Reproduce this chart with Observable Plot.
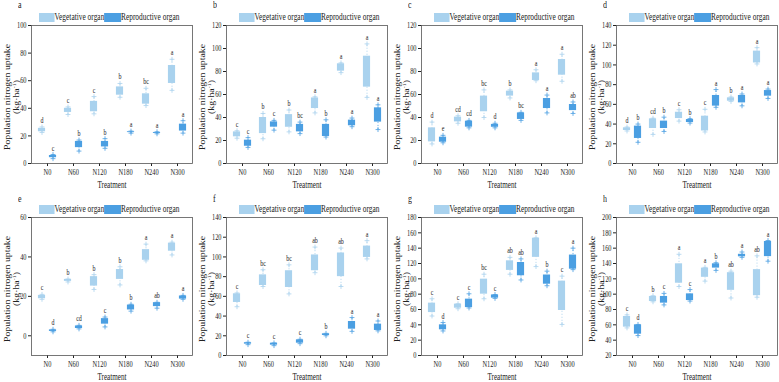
<!DOCTYPE html>
<html><head><meta charset="utf-8">
<script src="https://cdn.jsdelivr.net/npm/d3@7"></script>
<script src="https://cdn.jsdelivr.net/npm/@observablehq/plot@0.6"></script>
<style>
body{margin:0;background:#fff;}
#root{position:relative;width:779px;height:382px;overflow:hidden;font-family:"Liberation Serif",serif;color:#222;}
.panel{position:absolute;width:195px;height:192px;}
.panel svg{position:absolute;left:0;top:0;overflow:visible;}
.abs{position:absolute;white-space:nowrap;}
.letter{font-size:10px;line-height:10px;transform:scaleX(0.8);transform-origin:0 0;}
.legend{display:flex;align-items:center;font-size:10px;line-height:10px;transform:scaleX(0.74);transform-origin:0 0;}
.sw{display:inline-block;height:9px;}
.ylab{font-size:9.8px;line-height:12px;text-align:center;transform:translate(-50%,-50%) rotate(-90deg) scale(1,0.75);}
.ylab sup{font-size:6px;line-height:0;}
.xlab{font-size:9.5px;line-height:10px;transform:translateX(-50%) scaleX(0.75);}
</style></head><body><div id="root"></div>
<script>
// ---------- data ----------
const treatments = ["N0","N60","N120","N180","N240","N300"];
const organs = ["Vegetative organ","Reproductive organ"];
const panelLetters = ["a","b","c","d","e","f","g","h"];

// y axis domains and ticks per panel
const yDomains = [[0,100],[0,120],[0,120],[0,140],[-10,60],[0,140],[0,180],[20,200]];
const yTicks = [
  [0,20,40,60,80,100],
  [0,20,40,60,80,100,120],
  [0,20,40,60,80,100,120],
  [0,20,40,60,80,100,120,140],
  [0,20,40,60],
  [0,20,40,60,80,100,120,140],
  [0,20,40,60,80,100,120,140,160,180],
  [20,40,60,80,100,120,140,160,180,200]
];

// each entry: [whisker low, Q1, Q3, whisker high] for N0..N300
const vegA = [[22.5,23,25.5,26.5],[35.5,37,40,41],[36,37.5,45,48.5],[48,49.5,55.5,58],[42,43,50.5,54.5],[53,58,71,75.5]];
const repA = [[3.5,4.2,5.8,6.5],[9,11.5,16,17],[11,12,16,18],[22,22.4,23,23.5],[21.5,21.8,22.5,23],[22,23.5,28.5,31]];
const vegB = [[22,23.2,27.5,28.5],[21.5,26,40,43.5],[27.5,31.5,42.5,46.5],[44,47.8,57,58],[79,80.3,86.7,87.5],[57.5,66.4,93.3,104]];
const repB = [[14,15,20.3,22.5],[29,31.6,36.2,37.5],[26,27.5,34,36],[23,23.5,34,38],[32,32.8,37.7,39.5],[29.5,36,48.4,51]];
const vegC = [[17,18.8,31,36],[35,36.2,40.3,41.5],[40,45,58.6,64],[57,58.6,62.9,64],[72,72.2,78.8,81.5],[71.5,76.8,90.4,95]];
const repC = [[18,18.5,22.9,24.5],[31,31.6,36.8,37.5],[31,31.5,34,35],[37.5,38.3,44,44.5],[44,47.8,56.5,59.5],[43.5,46,51.3,53.5]];
const vegD = [[33,33.5,36.2,37],[29.5,35.5,45.3,46],[43,45.6,52,54.5],[32,33,48,55],[63,63.2,66.6,67.5],[101,102,114,117.5]];
const repD = [[21.5,25.4,37.9,40],[32.5,35.5,43,47],[41,41.6,44.6,45.5],[57,58.2,69,75],[58.5,61.5,69,70.5],[66,68.3,74,75.5]];
const vegE = [[18.5,18.8,20.5,21],[27.3,27.6,28.6,28.8],[23.5,25.2,30,31],[25.8,28.6,33.6,35],[38,38.3,43.7,46.5],[41,42.9,47,47.5]];
const repE = [[2,2.2,3,3.3],[3.5,3.7,5,5.3],[4.5,5.9,8.7,9.5],[12.5,13.1,15.6,16],[14,14.8,16.8,17],[18.5,18.6,20.2,20.5]];
const vegF = [[49.5,53.8,62.6,63.5],[70,71,81.8,87],[62.5,69,86,92],[84,86,102,110],[70,80,104,109],[98,99.5,111,116.5]];
const repF = [[11,11.5,13,13.5],[10,10.5,12.5,12.8],[12,12.5,15.9,16.5],[20,20.3,22,22.5],[24.5,26.7,34.5,38.5],[25,25.4,31.8,35]];
const vegG = [[51.5,56,68.3,74],[61,61.7,67,67.5],[74,80,99.6,106],[106,111,123.5,128],[116,128,153,153.5],[40.5,58.7,97,103.5]];
const repG = [[32,33.5,40,43],[62,62.5,73.5,80.5],[74.5,74.8,79,79.5],[98.5,104,121.3,126],[91,93,105,110],[112,112.6,131,140]];
const vegH = [[56,57,70.9,73],[90,90.4,97,98],[110,114.3,139.6,152],[117,122,134,135],[95,105,128,130],[96,98,132,150]];
const repH = [[46,47.8,60,60.5],[86,88.3,97,101],[91,91.7,100.4,106],[131,134,139.6,141],[148,148.7,152,155],[143,149,168.7,170]];

// significance letters
const sigVegA = ["d","c","c","b","bc","a"], sigRepA = ["c","b","b","a","a","a"];
const sigVegB = ["c","b","b","a","a","a"], sigRepB = ["c","c","bc","b","a","a"];
const sigVegC = ["d","cd","bc","b","a","a"], sigRepC = ["e","cd","d","bc","a","ab"];
const sigVegD = ["d","cd","c","c","b","a"], sigRepD = ["b","b","b","a","a","a"];
const sigVegE = ["c","b","b","b","a","a"], sigRepE = ["d","cd","c","b","ab","a"];
const sigVegF = ["c","bc","bc","ab","ab","a"], sigRepF = ["c","c","c","b","a","a"];
const sigVegG = ["c","c","bc","ab","a","c"], sigRepG = ["d","c","c","ab","b","a"];
const sigVegH = ["c","b","a","a","ab","ab"], sigRepH = ["d","c","c","b","a","a"];

const panels = [
  [vegA, repA, sigVegA, sigRepA],
  [vegB, repB, sigVegB, sigRepB],
  [vegC, repC, sigVegC, sigRepC],
  [vegD, repD, sigVegD, sigRepD],
  [vegE, repE, sigVegE, sigRepE],
  [vegF, repF, sigVegF, sigRepF],
  [vegG, repG, sigVegG, sigRepG],
  [vegH, repH, sigVegH, sigRepH]
];

// ---------- styles ----------
const colVeg = "#a9d2ee", colRep = "#4b9fe2";
const W = 195, H = 192, ML = 31, MR = 3, MT = 25, MB = 29;
const bw = (W - ML - MR) / treatments.length;
const off = 5.5, boxW = 8;
const inNear = bw / 2 - off - boxW / 2, inFar = bw / 2 + off - boxW / 2;

function rows(vals, sigs) {
  return treatments.map((t, i) => ({treatment: t, lo: vals[i][0], q1: vals[i][1], q3: vals[i][2], hi: vals[i][3], sig: sigs[i]}));
}

function organMarks(data, color, dx, insetLeft, insetRight) {
  return [
    Plot.ruleX(data, {x: "treatment", y1: "lo", y2: "hi", stroke: color, strokeWidth: 0.8, strokeDasharray: "1.2,1.8", dx}),
    Plot.barY(data, {x: "treatment", y1: "q1", y2: "q3", fill: color, insetLeft, insetRight}),
    Plot.dot(data, {x: "treatment", y: "lo", symbol: "plus", r: 1.7, stroke: color, strokeWidth: 0.8, dx}),
    Plot.dot(data, {x: "treatment", y: "hi", symbol: "plus", r: 1.7, stroke: color, strokeWidth: 0.8, dx}),
    Plot.text(data, {x: "treatment", y: "hi", text: "sig", dx, dy: -4, lineAnchor: "bottom", fill: "#222", fontSize: 8})
  ];
}

const root = document.getElementById("root");
panels.forEach(([veg, rep, sv, sr], k) => {
  const col = k % 4, row = Math.floor(k / 4);
  const div = document.createElement("div");
  div.className = "panel";
  div.style.left = (col * 195) + "px";
  div.style.top = (row * 192) + "px";
  const vRows = rows(veg, sv), rRows = rows(rep, sr);
  const svg = Plot.plot({
    width: W, height: H, marginTop: MT, marginBottom: MB, marginLeft: ML, marginRight: MR,
    style: {fontFamily: "Liberation Serif", fontSize: "8.5px", color: "#222", background: "transparent"},
    x: {type: "band", domain: treatments, padding: 0, label: null, tickSize: 3, tickPadding: 2},
    y: {domain: yDomains[k], ticks: yTicks[k], label: null, tickSize: 3, tickPadding: 2},
    marks: [
      ...organMarks(vRows, colVeg, -off, inNear, inFar),
      ...organMarks(rRows, colRep, off, inFar, inNear),
      Plot.frame({stroke: "#555", strokeWidth: 0.8})
    ]
  });
  svg.querySelectorAll("text").forEach(el => {
    const t = el.getAttribute("transform") || "";
    const x = +(el.getAttribute("x") || 0);
    el.setAttribute("transform", `${t} translate(${x},0) scale(0.75,1) translate(${-x},0)`);
  });
  div.appendChild(svg);

  const frameCx = ML + (W - ML - MR) / 2;
  div.insertAdjacentHTML("beforeend", `
    <div class="abs letter" style="left:18px;top:${row ? 2 : 0}px">${panelLetters[k]}</div>
    <div class="abs legend" style="left:${39 + (col ? 5 : 0)}px;top:12px">
      <span class="sw" style="width:21px;background:${colVeg}"></span><span>${organs[0]}</span><span class="sw" style="width:22.5px;background:${colRep}"></span><span>${organs[1]}</span>
    </div>
    <div class="abs ylab" style="left:11.5px;top:${MT + (H - MT - MB) / 2 + 3}px">Population nitrogen uptake<br>(kg·ha<sup>-1</sup>)</div>
    <div class="abs xlab" style="left:${frameCx}px;top:180px">Treatment</div>
  `);
  root.appendChild(div);
});
</script></body></html>
